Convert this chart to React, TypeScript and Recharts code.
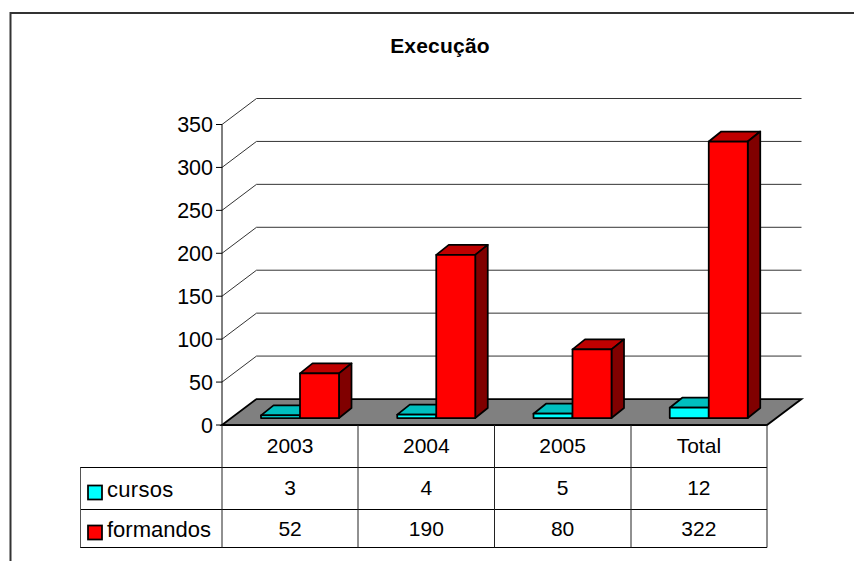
import { Bar, BarChart, CartesianGrid, XAxis, YAxis } from "recharts";

const categories = ["2003", "2004", "2005", "Total"];
const cursos = [3, 4, 5, 12];
const formandos = [52, 190, 80, 322];
const yTicks = [0, 50, 100, 150, 200, 250, 300, 350];

const W = 854;
const H = 561;
const FONT = "'Liberation Sans', Arial, sans-serif";
const TEXT = "#000000";

// front plane of the 3D box
const PLOT_LEFT = 222;
const PLOT_RIGHT = 767;
const PLOT_TOP = 124.5;
const PLOT_BOTTOM = 425;
// back wall offset, bars sit part way into the floor
const BACK_DX = 34.5;
const BACK_DY = -26;
const BAR_DX = 10;
const BAR_DY = -7;
const DEPTH_DX = 12.5;
const DEPTH_DY = -10;

const ROW_LINES = [467.5, 509.5, 547.5];
const COL_LINES = [222, 358, 494.5, 631, 767];
const ROW_TEXT = [445, 487.5, 528.5];

const data = categories.map((name, i) => ({
  name,
  cursos: cursos[i],
  formandos: formandos[i],
}));

const Bar3D = (props: any) => {
  const { width, height, front, top, side } = props;
  const x = props.x + BAR_DX;
  const y = props.y + BAR_DY;
  const r = x + width;
  const b = y + height;
  const stroke = { stroke: "#000", strokeWidth: 1.75, strokeLinejoin: "round" as const };
  return (
    <g>
      <path
        d={`M${x},${y}L${x + DEPTH_DX},${y + DEPTH_DY}L${r + DEPTH_DX},${y + DEPTH_DY}L${r},${y}Z`}
        fill={top}
        {...stroke}
      />
      <path
        d={`M${r},${y}L${r + DEPTH_DX},${y + DEPTH_DY}L${r + DEPTH_DX},${b + DEPTH_DY}L${r},${b}Z`}
        fill={side}
        {...stroke}
      />
      <rect x={x} y={y} width={width} height={height} fill={front} {...stroke} />
    </g>
  );
};

// each gridline runs up the side wall and along the back wall
const WallLine = (props: any) => {
  const { x1, x2, y1 } = props;
  const isFloor = Math.abs(y1 - PLOT_BOTTOM) < 1;
  const backY = y1 + BACK_DY;
  if (isFloor) {
    return (
      <path
        d={`M${x1},${y1}L${x1 + BACK_DX},${backY}L${x2 + BACK_DX},${backY}L${x2},${y1}Z`}
        fill="#808080"
        stroke="#000"
        strokeWidth={1.75}
      />
    );
  }
  return (
    <path
      d={`M${x1},${y1}L${x1 + BACK_DX},${backY}L${x2 + BACK_DX},${backY}`}
      fill="none"
      stroke="#333"
      strokeWidth={1}
    />
  );
};

const TableTick = (props: any) => {
  const { x, payload } = props;
  const i = payload.index;
  const rows = [categories[i], cursos[i], formandos[i]];
  return (
    <g>
      {rows.map((t, r) => (
        <text
          key={r}
          x={x}
          y={ROW_TEXT[r]}
          textAnchor="middle"
          dominantBaseline="central"
          fontFamily={FONT}
          fontSize={21}
          fill={TEXT}
        >
          {t}
        </text>
      ))}
    </g>
  );
};

const App = () => {
  return (
    <div style={{ position: "absolute", left: 0, top: 0, width: W, height: H, overflow: "hidden", background: "#fff" }}>
      <BarChart
        width={W}
        height={H}
        data={data}
        barSize={39}
        barGap={0}
        margin={{ left: PLOT_LEFT - 60, right: W - PLOT_RIGHT, top: PLOT_TOP, bottom: 0 }}
      >
        <CartesianGrid horizontal={WallLine} vertical={false} stroke="#333" />
        <XAxis
          dataKey="name"
          axisLine={false}
          tickLine={false}
          height={H - PLOT_BOTTOM}
          tick={TableTick}
          interval={0}
        />
        <YAxis
          width={60}
          domain={[0, 350]}
          ticks={yTicks}
          tickSize={6}
          tickMargin={3}
          interval={0}
          axisLine={{ stroke: "#000" }}
          tickLine={{ stroke: "#000" }}
          tick={{ fontFamily: FONT, fontSize: 21.5, fill: TEXT }}
        />
        <Bar dataKey="cursos" isAnimationActive={false} shape={<Bar3D front="#00ffff" top="#00bfbf" side="#008080" />} />
        <Bar dataKey="formandos" isAnimationActive={false} shape={<Bar3D front="#ff0000" top="#bf0000" side="#800000" />} />
      </BarChart>
      <svg width={W} height={H} style={{ position: "absolute", left: 0, top: 0, pointerEvents: "none" }}>
        <path d={`M10.5,${H}V13H${W}`} fill="none" stroke="#333" strokeWidth={2} />
        <text x={440} y={45.5} textAnchor="middle" dominantBaseline="central" fontFamily={FONT} fontWeight="bold" fontSize={21} letterSpacing={0.2} fill={TEXT}>
          Execução
        </text>
        {ROW_LINES.map((y) => (
          <line key={y} x1={80} x2={PLOT_RIGHT} y1={y} y2={y} stroke="#000" />
        ))}
        <line x1={PLOT_LEFT} x2={PLOT_RIGHT} y1={PLOT_BOTTOM} y2={PLOT_BOTTOM} stroke="#000" strokeWidth={1.75} />
        {COL_LINES.map((x) => (
          <line key={x} x1={x} x2={x} y1={PLOT_BOTTOM} y2={ROW_LINES[2]} stroke="#222" />
        ))}
        <line x1={80.5} x2={80.5} y1={ROW_LINES[0]} y2={ROW_LINES[2]} stroke="#555" />
        <rect x={88} y={485.5} width={14} height={14} fill="#00ffff" stroke="#000" strokeWidth={1.75} />
        <text x={107} y={497} fontFamily={FONT} fontSize={22} letterSpacing={0.3} fill={TEXT}>cursos</text>
        <rect x={88} y={525.5} width={14} height={14} fill="#ff0000" stroke="#000" strokeWidth={1.75} />
        <text x={107} y={537} fontFamily={FONT} fontSize={22} fill={TEXT}>formandos</text>
      </svg>
    </div>
  );
};

export default App;
